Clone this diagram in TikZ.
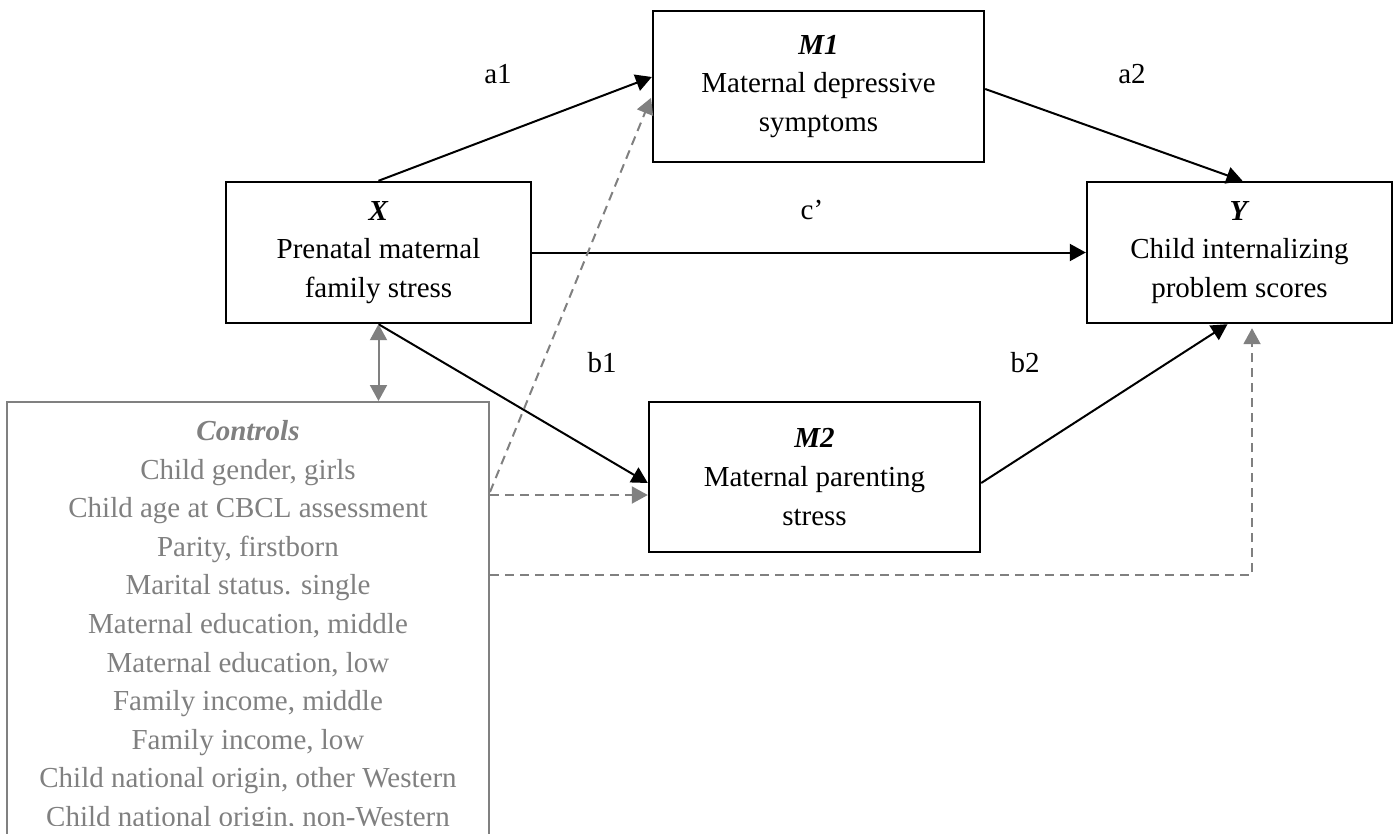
\documentclass[tikz,border=0pt]{standalone}
\usepackage{fontspec}
\setmainfont{Liberation Serif}
\usetikzlibrary{arrows.meta,calc}
\definecolor{ctlgray}{RGB}{128,128,128}
\begin{document}
\begin{tikzpicture}[x=0.5pt,y=-0.5pt,
  txt/.style={font={\fontsize{14.5}{19.3}\selectfont}},
  box/.style={txt, draw=black, line width=1.2pt, align=center, inner sep=0pt},
  ctlbox/.style={draw=ctlgray, line width=1pt, inner sep=0pt},
  ctltext/.style={txt, text=ctlgray, align=center, inner sep=0pt},
  lbl/.style={txt, inner sep=0pt},
  tip/.style={Triangle[length=8pt,width=8.5pt]},
  arr/.style={draw=black, line width=1pt, -{Triangle[length=8pt,width=8.5pt]}},
  carr/.style={draw=ctlgray, line width=1pt, dash pattern=on 4.5pt off 3pt, -{Triangle[length=8pt,width=8.5pt]}},
  cbi/.style={draw=ctlgray, line width=1pt, {Triangle[length=8pt,width=8.5pt]}-{Triangle[length=8pt,width=8.5pt]}}
]
\useasboundingbox (0,0) rectangle (1396,834);
\clip (0,0) rectangle (1396,834);

% main boxes
\node[box, minimum width=152.5pt, minimum height=70.5pt] (X) at (378.5,252.5)
  {\textbf{\textit{X}}\\Prenatal maternal\\family stress};
\node[box, minimum width=165.5pt, minimum height=75.5pt] (M1) at (818.5,86.5)
  {\textbf{\textit{M1}}\\Maternal depressive\\symptoms};
\node[box, minimum width=165.5pt, minimum height=75pt] (M2) at (814.5,477)
  {\textbf{\textit{M2}}\\Maternal parenting\\stress};
\node[box, minimum width=152.5pt, minimum height=70.5pt] (Y) at (1239.5,252.5)
  {\textbf{\textit{Y}}\\Child internalizing\\problem scores};

% controls
\node[ctlbox, minimum width=241pt, minimum height=240pt, anchor=north] (ctl) at (248,401) {};
\begin{scope}
\clip (0,0) rectangle (1396,825);
\node[ctltext, anchor=north] (ctltxt) at (248,420)
  {\textbf{\textit{Controls}}\\
   Child gender, girls\\
   Child age at CBCL assessment\\
   Parity, firstborn\\
   Marital status. single\\
   Maternal education, middle\\
   Maternal education, low\\
   Family income, middle\\
   Family income, low\\
   Child national origin, other Western\\
   Child national origin, non-Western};
\end{scope}

% path labels
\node[lbl] (la1) at (498,74) {a1};
\node[lbl] (la2) at (1132,74) {a2};
\node[lbl] (lc) at (812,210) {c’};
\node[lbl] (lb1) at (602,363) {b1};
\node[lbl] (lb2) at (1025,363) {b2};

% black paths
\draw[arr] (X.north) -- (M1.west |- 0,77);
\draw[arr] (M1.east |- 0,89) -- ($(Y.north)+(3,0)$);
\draw[arr] (X.east) -- (Y.west);
\draw[arr] (X.south) -- (M2.west |- 0,483);
\draw[arr] (M2.east |- 0,483) -- ($(Y.south)+(-12,0)$);

% control paths
\draw[cbi] (X.south) -- (X.south |- ctl.north);
\draw[carr, shorten >=1pt] (ctl.east |- 0,492) -- (M1.west |- 0,96);
\draw[carr] (ctl.east |- 0,495) -- (M2.west |- 0,495);
\draw[carr, shorten >=2pt] (ctl.east |- 0,575) -| ($(Y.south)+(12.5,0)$);
\end{tikzpicture}
\end{document}
